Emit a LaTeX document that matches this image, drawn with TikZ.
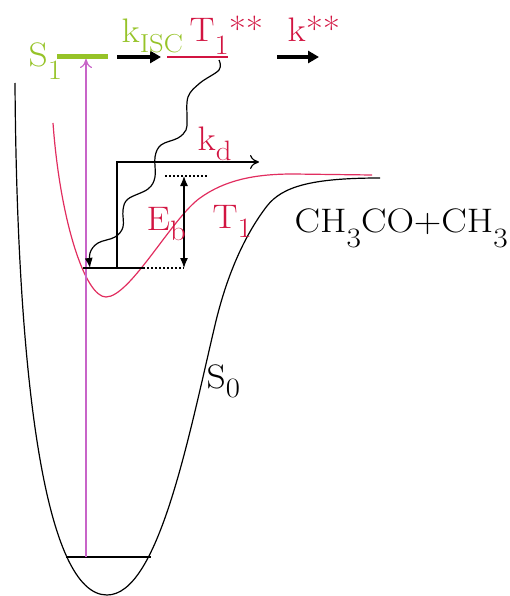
\documentclass[tikz,border=0pt]{standalone}
\usepackage{fontspec}
\usetikzlibrary{arrows.meta}
\definecolor{sgreen}{RGB}{150,195,40}
\definecolor{tred}{RGB}{210,20,65}
\definecolor{cred}{RGB}{225,45,95}
\definecolor{vio}{RGB}{200,100,200}
\newcommand\dn[2][11pt]{\raisebox{-#1}{\fontsize{28}{28}\selectfont #2}}
\tikzset{
  lbl/.style={anchor=base west, inner sep=0pt, xscale=1.1, font=\fontsize{34}{36}\selectfont},
  thickarr/.style={line width=3.5pt, -{Triangle[length=11pt,width=12pt]}},
  dotl/.style={line width=2pt, dotted},
}
\begin{document}
\begin{tikzpicture}[x=1pt,y=-1pt,line width=1.2pt]
\useasboundingbox (0,0) rectangle (510,596);
% S0 curve
\draw[black] (15,83) .. controls (17,380) and (45,595) .. (107,595)
  .. controls (158,595) and (188,440) .. (215,325)
  .. controls (228,270) and (247,232) .. (267,206)
  .. controls (282,187) and (310,178) .. (380,178);
% T1 curve
\draw[cred] (53,123) .. controls (60,220) and (85,297) .. (106,297)
  .. controls (130,297) and (172,218) .. (200,198)
  .. controls (225,180) and (255,174) .. (293,174) -- (372,175);
% levels
\coordinate (v0l) at (66,557); \coordinate (v0r) at (151,557);
\draw (v0l) -- (v0r);
\coordinate (pb) at (86,557); \coordinate (pt) at (86,59);
\draw[vio, line width=1.2pt, -{To[length=9pt,width=12pt]}] (pb) -- (pt);
\coordinate (g1) at (57,57); \coordinate (g2) at (108,57);
\draw[sgreen, line width=5pt] (g1) -- (g2);
\coordinate (r1) at (167,57); \coordinate (r2) at (228,57);
\draw[tred, line width=1.3pt] (r1) -- (r2);
\coordinate (a1) at (117,57); \coordinate (a2) at (161,57);
\draw[thickarr] (a1) -- (a2);
\coordinate (b1) at (277,57); \coordinate (b2) at (319,57);
\draw[thickarr] (b1) -- (b2);
% wavy relaxation
\draw[-{Latex[length=10pt,width=8pt]}] plot[smooth, tension=0.6] coordinates {(219,60) (219,70) (200,83) (188,97) (187,120) (186,130) (178,138) (161,145) (155,157) (155,177) (148,189) (128,199) (123,210) (123,227) (115,237) (98,243) (90,253) (90,268)};
% kd arrow
\coordinate (k0) at (117,267); \coordinate (k1) at (117,162); \coordinate (k2) at (259,162);
\draw[-{To[length=9pt,width=14pt]}] (k0) -- (k1) -- (k2);
% barrier
\coordinate (bl) at (83,268); \coordinate (bm) at (143,268); \coordinate (br) at (184,268);
\draw (bl) -- (bm);
\draw[dotl] (bm) -- (br);
\coordinate (tl) at (165,176); \coordinate (tr) at (207,176);
\draw[dotl] (tl) -- (tr);
\coordinate (e1) at (184,176); \coordinate (e2) at (184,268);
\draw[{Latex[length=10pt,width=8pt]}-{Latex[length=10pt,width=8pt]}] (e1) -- (e2);
% labels
\node[lbl, text=sgreen] (s1) at (28,67) {S\dn[13pt]{1}};
\node[lbl, text=sgreen] (kisc) at (121,43) {k\raisebox{-10pt}{\fontsize{26}{26}\selectfont ISC}};
\node[lbl, text=tred] (t1ss) at (189,42) {T\dn[13pt]{1}**};
\node[lbl, text=tred] (kss) at (287,42) {k**};
\node[lbl, text=tred] (kd) at (197,150) {k\dn[10pt]{d}};
\node[lbl, text=tred] (eb) at (146,230) {E\dn[10pt]{b}};
\node[lbl, text=tred] (t1) at (212,228) {T\dn[9pt]{1}};
\node[lbl] (s0) at (206,388) {S\dn[9pt]{0}};
\node[lbl, xscale=1.02] (prod) at (294,232) {CH\dn[15pt]{3}CO+CH\dn[15pt]{3}};
\end{tikzpicture}
\end{document}
